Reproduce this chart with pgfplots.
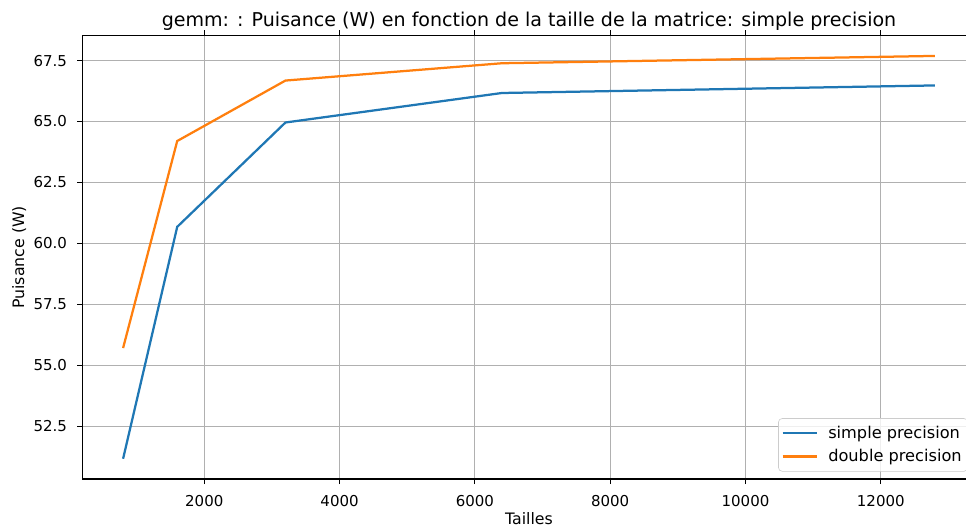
\documentclass[border=0pt]{standalone}
\usepackage{fontspec}
\setmainfont{DejaVu Sans}
\usepackage{pgfplots}
\pgfplotsset{compat=1.18}
\definecolor{c0}{HTML}{1F77B4}
\definecolor{c1}{HTML}{FF7F0E}
\definecolor{gridc}{HTML}{B0B0B0}
\definecolor{legc}{HTML}{CCCCCC}
\begin{document}
\fontsize{10pt}{12pt}\selectfont
\begin{tikzpicture}
\begin{axis}[
  scale only axis,
  width=595.3pt, height=295.5pt,
  xmin=200, xmax=13400,
  ymin=50.34, ymax=68.52,
  xtick={2000,4000,6000,8000,10000,12000},
  ytick={52.5,55,57.5,60,62.5,65,67.5},
  /pgf/number format/assume math mode=true,
  /pgf/number format/1000 sep={},
  yticklabel style={/pgf/number format/fixed,/pgf/number format/fixed zerofill,/pgf/number format/precision=1, xshift=-3.3pt},
  xticklabel style={yshift=-3.8pt},
  scaled x ticks=false,
  scaled y ticks=false,
  tick align=outside,
  major tick length=3.5pt,
  tick style={black, line width=0.8pt},
  axis line style={black, line width=0.8pt},
  grid=major,
  major grid style={gridc, line width=0.8pt},
  every axis title shift=0pt,
  title={gemm: : Puisance (W) en fonction de la taille de la matrice: simple precision},
  title style={at={(axis description cs:0.5,1.0213)}, anchor=base, font=\fontsize{12.7pt}{15pt}\selectfont},
  xlabel={Tailles},
  xlabel style={at={(axis description cs:0.5,-0.1038)}, anchor=base, font=\fontsize{10.5pt}{12pt}\selectfont},
  ylabel={Puisance (W)},
  ylabel style={at={(axis description cs:-0.0655,0.5)}, anchor=base, font=\fontsize{10.5pt}{12pt}\selectfont},
  legend cell align=left,
  legend style={at={(axis description cs:1,0)}, anchor=south east, xshift=-5pt, yshift=4.9pt,
    draw=legc, rounded corners=2.5pt, fill=white, fill opacity=0.8, text opacity=1,
    font=\fontsize{10.8pt}{13pt}\selectfont,
    inner xsep=2pt, inner ysep=3pt, row sep=1.8pt},
  legend image code/.code={\draw[#1] (0pt,0pt) -- (23pt,0pt); \path (27.7pt,0pt);},
]
\addplot[c0, line width=1.5pt] coordinates {(800,51.17) (1600,60.68) (3200,64.96) (6400,66.17) (12800,66.48)};
\addlegendentry{simple precision}
\addplot[c1, line width=1.5pt] coordinates {(800,55.71) (1600,64.20) (3200,66.68) (6400,67.39) (12800,67.69)};
\addlegendentry{double precision}
\end{axis}
\pgfresetboundingbox
\path ([shift={(-55pt,-33.3pt)}]current axis.south west) rectangle ([shift={(-6.33pt,23.8pt)}]current axis.north east);
\end{tikzpicture}
\end{document}
